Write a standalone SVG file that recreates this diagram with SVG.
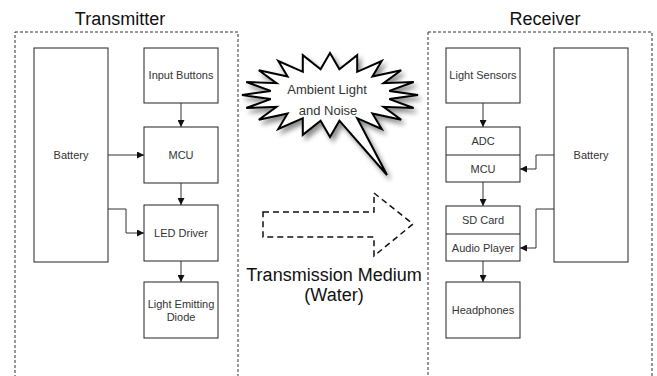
<svg xmlns="http://www.w3.org/2000/svg" width="657" height="376" viewBox="0 0 657 376">
<style>
.frame{fill:none;stroke:#333;stroke-width:1;stroke-dasharray:3 2}
.box{fill:#fff;stroke:#222;stroke-width:1}
.lbl{font-family:"Liberation Sans",Arial,sans-serif;font-size:11px;fill:#333;text-anchor:middle}
.title{font-family:"Liberation Sans",Arial,sans-serif;font-size:18px;fill:#111;text-anchor:middle}
.conn{fill:none;stroke:#333;stroke-width:1}
</style>
<defs>
<marker id="arr" viewBox="0 0 10 10" refX="10" refY="5" markerWidth="7" markerHeight="7" orient="auto" markerUnits="userSpaceOnUse">
<path d="M0,0 L10,5 L0,10 Z" fill="#111"/>
</marker>
<filter id="shadow" x="-20%" y="-20%" width="150%" height="160%">
<feGaussianBlur in="SourceAlpha" stdDeviation="2.5"/>
<feOffset dx="3" dy="4" result="b"/>
<feComponentTransfer><feFuncA type="linear" slope="0.45"/></feComponentTransfer>
<feMerge><feMergeNode/><feMergeNode in="SourceGraphic"/></feMerge>
</filter>
</defs>
<rect width="657" height="376" fill="#fff"/>

<g id="transmitter">
<rect class="frame" x="15" y="32" width="223" height="360"/>
<text class="title" x="120" y="25">Transmitter</text>
</g>
<g id="receiver">
<rect class="frame" x="428" y="32" width="224" height="360"/>
<text class="title" x="545" y="25">Receiver</text>
</g>

<g id="tx-battery"><rect class="box" x="34" y="48" width="74" height="214"/><text class="lbl" x="71" y="159">Battery</text></g>
<g id="tx-input"><rect class="box" x="144" y="48" width="74" height="55"/><text class="lbl" x="181" y="79">Input Buttons</text></g>
<g id="tx-mcu"><rect class="box" x="144" y="127" width="74" height="56"/><text class="lbl" x="181" y="159">MCU</text></g>
<g id="tx-led"><rect class="box" x="144" y="205" width="74" height="56"/><text class="lbl" x="181" y="237">LED Driver</text></g>
<g id="tx-diode"><rect class="box" x="144" y="282" width="74" height="56"/><text class="lbl" x="181" y="308">Light Emitting</text><text class="lbl" x="181" y="321">Diode</text></g>

<g id="rx-sensors"><rect class="box" x="446" y="48" width="74" height="55"/><text class="lbl" x="483" y="79">Light Sensors</text></g>
<g id="rx-adc-mcu"><rect class="box" x="446" y="127" width="74" height="55"/><line class="box" x1="446" y1="155" x2="520" y2="155"/><text class="lbl" x="483" y="145">ADC</text><text class="lbl" x="483" y="173">MCU</text></g>
<g id="rx-battery"><rect class="box" x="554" y="48" width="74" height="214"/><text class="lbl" x="591" y="159">Battery</text></g>
<g id="rx-sd-audio"><rect class="box" x="446" y="206" width="74" height="55"/><line class="box" x1="446" y1="234" x2="520" y2="234"/><text class="lbl" x="483" y="224">SD Card</text><text class="lbl" x="483" y="252">Audio Player</text></g>
<g id="rx-headphones"><rect class="box" x="446" y="282" width="74" height="56"/><text class="lbl" x="483" y="314">Headphones</text></g>

<g id="noise">
<polygon filter="url(#shadow)" fill="#fff" stroke="#000" stroke-width="2" stroke-linejoin="miter" points="418,95 389.3,90.9 413.7,82 383.5,83.2 401.2,70.3 372.4,76.6 381.7,61 357.2,71.8 357.2,55.1 339.4,69.3 330,53 320.6,69.3 302.8,55.1 302.8,71.8 278.3,61 287.6,76.6 258.8,70.3 276.5,83.2 246.3,82 270.7,90.9 242,95 270.7,99.1 246.3,108 276.5,106.8 258.8,119.7 287.6,113.4 278.3,129 302.8,118.2 302.8,134.9 320.6,120.7 330,137 339.4,120.7 387,175 357.2,118.2 381.7,129 372.4,113.4 401.2,119.7 383.5,106.8 413.7,108 389.3,99.1"/>
<text class="lbl" x="327" y="94" style="font-size:13px">Ambient Light</text>
<text class="lbl" x="328" y="115" style="font-size:13px">and Noise</text>
</g>

<g id="medium">
<polygon points="263,212 374,212 374,193 413,224 374,256 374,237 263,237 263,212" fill="none" stroke="#111" stroke-width="1.5" stroke-dasharray="6 4"/>
<text class="title" x="334" y="281">Transmission Medium</text>
<text class="title" x="334" y="301">(Water)</text>
</g>

<g id="connectors">
<line class="conn" x1="181" y1="103" x2="181" y2="127" marker-end="url(#arr)"/>
<line class="conn" x1="181" y1="183" x2="181" y2="205" marker-end="url(#arr)"/>
<line class="conn" x1="181" y1="261" x2="181" y2="282" marker-end="url(#arr)"/>
<line class="conn" x1="108" y1="155" x2="144" y2="155" marker-end="url(#arr)"/>
<polyline class="conn" points="108,209 126,209 126,233 144,233" marker-end="url(#arr)"/>
<line class="conn" x1="483" y1="103" x2="483" y2="127" marker-end="url(#arr)"/>
<line class="conn" x1="483" y1="182" x2="483" y2="206" marker-end="url(#arr)"/>
<line class="conn" x1="483" y1="261" x2="483" y2="282" marker-end="url(#arr)"/>
<polyline class="conn" points="554,155 536,155 536,169 520,169" marker-end="url(#arr)"/>
<polyline class="conn" points="554,209 536,209 536,248 520,248" marker-end="url(#arr)"/>
</g>
</svg>
